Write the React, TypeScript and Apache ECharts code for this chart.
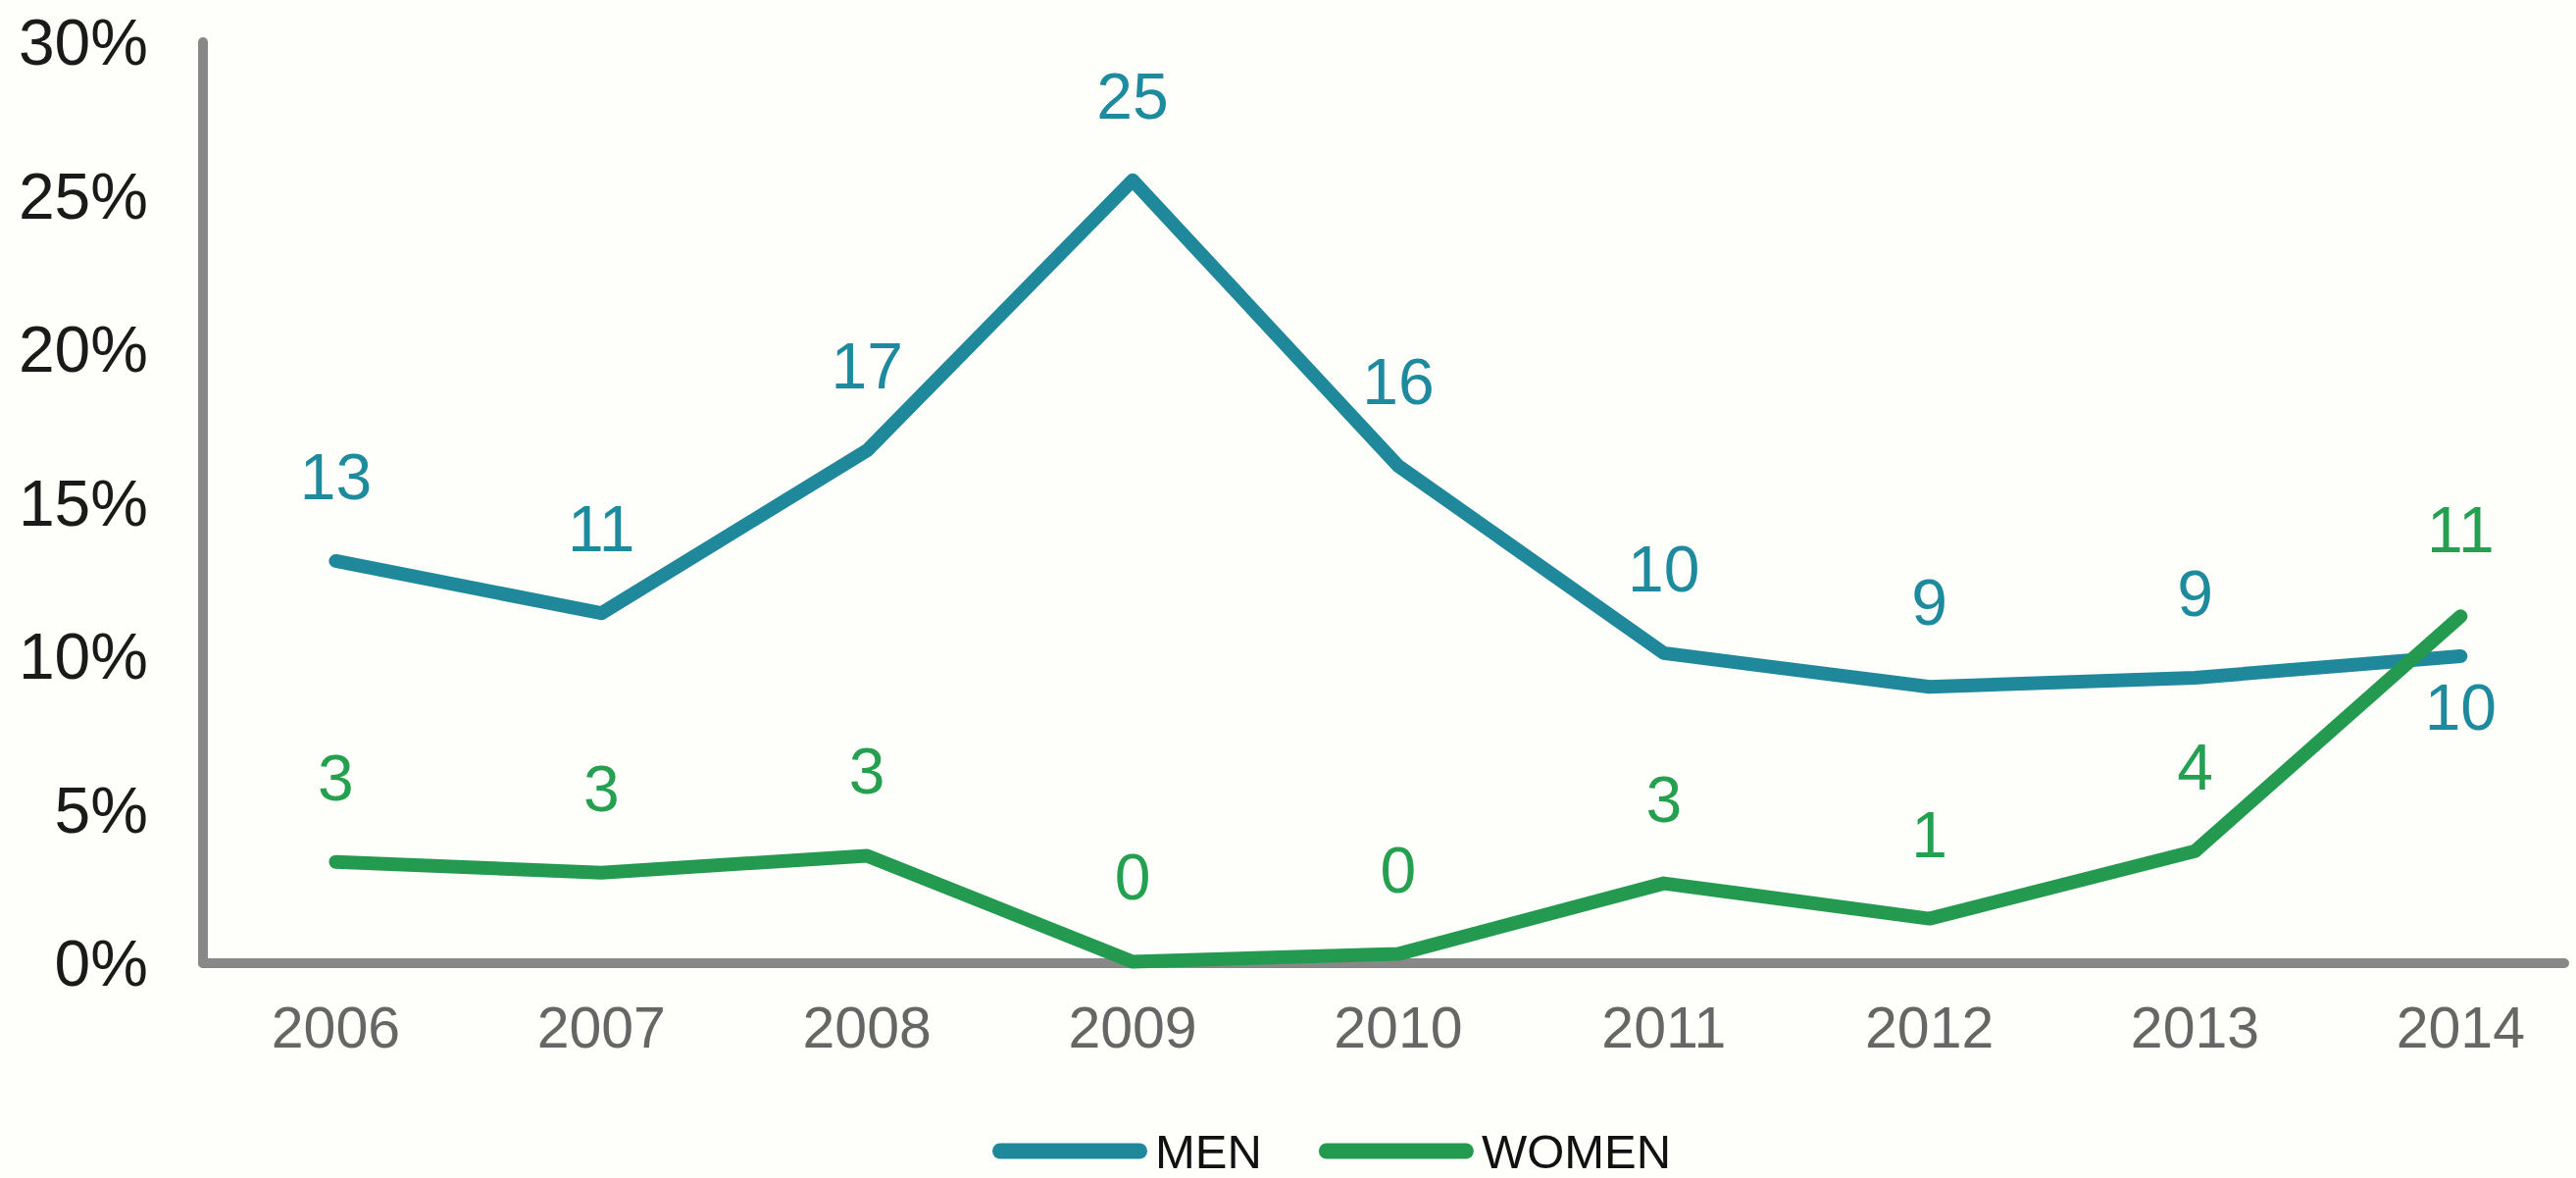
import React, { useEffect, useRef } from "react";
import * as echarts from "echarts";

const years = [2006, 2007, 2008, 2009, 2010, 2011, 2012, 2013, 2014];
const menValues = [13.1, 11.4, 16.7, 25.5, 16.2, 10.1, 9.0, 9.3, 10.0];
const womenValues = [3.3, 2.95, 3.5, 0.05, 0.3, 2.6, 1.45, 3.65, 11.3];
const menLabels = ["13", "11", "17", "25", "16", "10", "9", "9", "10"];
const womenLabels = ["3", "3", "3", "0", "0", "3", "1", "4", "11"];
const yTicks = [0, 5, 10, 15, 20, 25, 30];

const MEN_COLOR = "#1f889b";
const WOMEN_COLOR = "#249a50";
const FONT = "'Liberation Sans', Arial, sans-serif";
const CAPSULE = "path://M8,0 L150,0 A8,8 0 0 1 150,16 L8,16 A8,8 0 0 1 8,0 Z";

export default function App() {
  const ref = useRef<HTMLDivElement>(null);
  useEffect(() => {
    if (!ref.current) return;
    const chart = echarts.init(ref.current, null, { renderer: "svg" });
    const mkData = (vals: number[], labelOffsets: (i: number) => number) =>
      vals.map((v, i) => ({
        value: [years[i], v],
        label: { offset: [0, labelOffsets(i)] },
      }));
    chart.setOption({
      animation: false,
      backgroundColor: "#fefefa",
      textStyle: { fontFamily: FONT },
      grid: { left: 207, top: 43, right: 12, bottom: 219, containLabel: false },
      xAxis: {
        type: "value",
        min: 2005.5,
        max: 2014.39,
        axisLine: { show: true, lineStyle: { color: "#888888", width: 10 } },
        axisTick: { show: false },
        splitLine: { show: false },
        axisLabel: {
          customValues: years,
          formatter: (v: number) => String(v),
          color: "#666666",
          fontSize: 59,
          fontFamily: FONT,
          margin: 36,
        },
      },
      yAxis: {
        type: "value",
        min: 0,
        max: 30,
        interval: 5,
        axisLine: { show: true, lineStyle: { color: "#888888", width: 10 } },
        axisTick: { show: false },
        splitLine: { show: false },
        axisLabel: {
          customValues: yTicks,
          formatter: (v: number) => v + "%",
          color: "#1a1a1a",
          fontSize: 66,
          fontFamily: FONT,
          margin: 56,
        },
      },
      legend: {
        left: 1007,
        top: 1144,
        itemWidth: 158,
        itemHeight: 16,
        itemGap: 58,
        data: [
          { name: "MEN", icon: CAPSULE },
          { name: "WOMEN", icon: CAPSULE },
        ],
        textStyle: {
          fontSize: 49,
          lineHeight: 44,
          color: "#111111",
          fontFamily: FONT,
          padding: [0, 0, 0, 3],
        },
      },
      series: [
        {
          name: "MEN",
          type: "line",
          data: mkData(menValues, (i) => (i === years.length - 1 ? 52 : -86)),
          symbol: "circle",
          symbolSize: 0.1,
          showSymbol: true,
          itemStyle: { color: MEN_COLOR },
          lineStyle: { color: MEN_COLOR, width: 14, cap: "round", join: "round" },
          label: {
            show: true,
            position: "inside",
            formatter: (p: any) => menLabels[p.dataIndex],
            color: "#1e8a9e",
            fontSize: 66,
            fontFamily: FONT,
          },
        },
        {
          name: "WOMEN",
          type: "line",
          data: mkData(womenValues, (i) => (i === years.length - 1 ? -88 : -86)),
          symbol: "circle",
          symbolSize: 0.1,
          showSymbol: true,
          itemStyle: { color: WOMEN_COLOR },
          lineStyle: { color: WOMEN_COLOR, width: 14, cap: "round", join: "round" },
          label: {
            show: true,
            position: "inside",
            formatter: (p: any) => womenLabels[p.dataIndex],
            color: "#25a050",
            fontSize: 66,
            fontFamily: FONT,
          },
        },
      ],
    });
    return () => chart.dispose();
  }, []);
  return (
    <div
      ref={ref}
      style={{ position: "absolute", left: 0, top: 0, width: 2627, height: 1201 }}
    />
  );
}
